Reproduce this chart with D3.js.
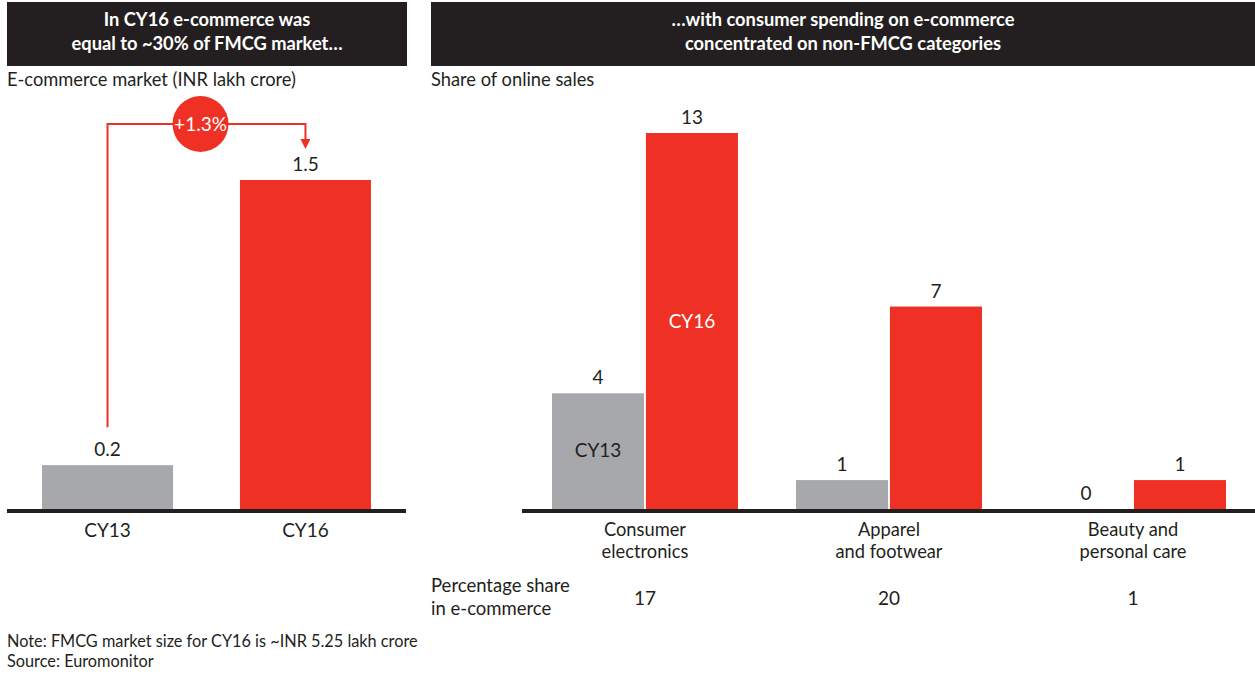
<!DOCTYPE html>
<html>
<head>
<meta charset="utf-8">
<script src="https://cdn.jsdelivr.net/npm/d3@7/dist/d3.min.js"></script>
<style>
  html, body { margin: 0; padding: 0; background: #fff; }
  svg { display: block; font-family: "Lato", "Open Sans", sans-serif; }
</style>
</head>
<body>
<svg id="chart" width="1255" height="676"></svg>
<script>
// ---- data ----
const marketYears = ["CY13", "CY16"];
const marketValues = [0.2, 1.5];
const marketGrowth = "+1.3%";

const categories = ["Consumer electronics", "Apparel and footwear", "Beauty and personal care"];
const categoryLines = [["Consumer", "electronics"], ["Apparel", "and footwear"], ["Beauty and", "personal care"]];
const seriesNames = ["CY13", "CY16"];
const shareCY13 = [4, 1, 0];
const shareCY16 = [13, 7, 1];
const ecommerceShare = [17, 20, 1];

const RED = "#ee3124";
const GREY = "#a7a8ab";
const DARK = "#231f20";

const svg = d3.select("#chart");

// ---- header bars ----
const headers = [
  { x0: 7, x1: 407, lines: ["In CY16 e-commerce was", "equal to ~30% of FMCG market\u2026"] },
  { x0: 431, x1: 1255, lines: ["\u2026with consumer spending on e-commerce", "concentrated on non-FMCG categories"] }
];
headers.forEach(h => {
  svg.append("rect").attr("x", h.x0).attr("y", 2).attr("width", h.x1 - h.x0).attr("height", 64).attr("fill", DARK);
  h.lines.forEach((t, i) => {
    svg.append("text").attr("x", (h.x0 + h.x1) / 2).attr("y", 26 + i * 24)
      .attr("text-anchor", "middle").attr("fill", "#fff")
      .attr("font-size", 18.3).attr("font-weight", 700).text(t);
  });
});

svg.append("text").attr("x", 7).attr("y", 86).attr("font-size", 18.3).attr("fill", DARK)
  .text("E-commerce market (INR lakh crore)");
svg.append("text").attr("x", 431).attr("y", 86).attr("font-size", 18.3).attr("fill", DARK)
  .text("Share of online sales");

// ---- left chart: e-commerce market ----
const baseY = 509;
const xL = d3.scaleBand().domain(marketYears).range([7, 406]).paddingInner(0.338).paddingOuter(0.177);
const yL = d3.scaleLinear().domain([0, 1.5]).range([baseY, 180]);

svg.append("g").selectAll("rect").data(marketValues).join("rect")
  .attr("x", (d, i) => xL(marketYears[i]))
  .attr("y", d => yL(d))
  .attr("width", xL.bandwidth())
  .attr("height", d => baseY - yL(d))
  .attr("fill", (d, i) => i === 0 ? GREY : RED);

svg.append("g").selectAll("text").data(marketValues).join("text")
  .attr("x", (d, i) => xL(marketYears[i]) + xL.bandwidth() / 2)
  .attr("y", d => yL(d) - 9)
  .attr("text-anchor", "middle").attr("font-size", 19).attr("fill", DARK)
  .text(d => d.toFixed(1));

svg.append("rect").attr("x", xL.range()[0]).attr("y", baseY).attr("width", xL.range()[1] - xL.range()[0]).attr("height", 4).attr("fill", DARK);

svg.append("g").selectAll("text").data(marketYears).join("text")
  .attr("x", d => xL(d) + xL.bandwidth() / 2)
  .attr("y", 537)
  .attr("text-anchor", "middle").attr("font-size", 19).attr("fill", DARK)
  .text(d => d);

// growth connector
const cx0 = xL(marketYears[0]) + xL.bandwidth() / 2;
const cx1 = xL(marketYears[1]) + xL.bandwidth() / 2;
const topY = 124;
const tipY = 149;
svg.append("path")
  .attr("d", `M${cx0},${yL(marketValues[0]) - 38} V${topY} H${cx1} V${tipY - 9}`)
  .attr("fill", "none").attr("stroke", RED).attr("stroke-width", 2);
svg.append("path")
  .attr("d", `M${cx1 - 5},${tipY - 10} L${cx1 + 5},${tipY - 10} L${cx1},${tipY} Z`)
  .attr("fill", RED);
const circX = (cx0 + cx1) / 2 - 6;
svg.append("circle").attr("cx", circX).attr("cy", topY).attr("r", 28).attr("fill", RED);
svg.append("text").attr("x", circX).attr("y", topY + 6.5).attr("text-anchor", "middle")
  .attr("font-size", 19).attr("fill", "#fff").text(marketGrowth);

// ---- right chart: share of online sales ----
const x0 = d3.scaleBand().domain(categories).range([522, 1256]).paddingInner(0.238).paddingOuter(0.123);
const x1 = d3.scaleBand().domain(seriesNames).range([0, x0.bandwidth()]).paddingInner(0.02);
const yR = d3.scaleLinear().domain([0, 13]).range([baseY, 133]);

const series = [shareCY13, shareCY16];
const groups = svg.append("g").selectAll("g").data(categories).join("g")
  .attr("transform", d => `translate(${x0(d)},0)`);

groups.selectAll("rect").data((d, ci) => seriesNames.map((s, si) => ({ s, v: series[si][ci] })))
  .join("rect")
  .attr("x", d => x1(d.s))
  .attr("y", d => yR(d.v))
  .attr("width", x1.bandwidth())
  .attr("height", d => baseY - yR(d.v))
  .attr("fill", d => d.s === "CY13" ? GREY : RED);

groups.selectAll("text.val").data((d, ci) => seriesNames.map((s, si) => ({ s, v: series[si][ci] })))
  .join("text").attr("class", "val")
  .attr("x", d => x1(d.s) + x1.bandwidth() / 2)
  .attr("y", d => yR(d.v) - 9)
  .attr("text-anchor", "middle").attr("font-size", 19).attr("fill", DARK)
  .text(d => d.v);

// in-bar series labels on the first category
const firstCat = categories[0];
svg.append("text")
  .attr("x", x0(firstCat) + x1("CY16") + x1.bandwidth() / 2)
  .attr("y", 328).attr("text-anchor", "middle").attr("font-size", 19).attr("fill", "#fff")
  .text("CY16");
svg.append("text")
  .attr("x", x0(firstCat) + x1("CY13") + x1.bandwidth() / 2)
  .attr("y", 457).attr("text-anchor", "middle").attr("font-size", 19).attr("fill", DARK)
  .text("CY13");

svg.append("rect").attr("x", x0.range()[0]).attr("y", baseY).attr("width", x0.range()[1] - x0.range()[0]).attr("height", 4).attr("fill", DARK);

categories.forEach((c, i) => {
  categoryLines[i].forEach((t, j) => {
    svg.append("text").attr("x", x0(c) + x0.bandwidth() / 2).attr("y", 536 + j * 22)
      .attr("text-anchor", "middle").attr("font-size", 18.3).attr("fill", DARK).text(t);
  });
  svg.append("text").attr("x", x0(c) + x0.bandwidth() / 2).attr("y", 605)
    .attr("text-anchor", "middle").attr("font-size", 19).attr("fill", DARK).text(ecommerceShare[i]);
});

svg.append("text").attr("x", 431).attr("y", 592).attr("font-size", 18.5).attr("fill", DARK).text("Percentage share");
svg.append("text").attr("x", 431).attr("y", 615).attr("font-size", 18.5).attr("fill", DARK).text("in e-commerce");

// ---- footnotes ----
svg.append("text").attr("x", 7).attr("y", 647).attr("font-size", 16.3).attr("fill", DARK)
  .text("Note: FMCG market size for CY16 is ~INR 5.25 lakh crore");
svg.append("text").attr("x", 7).attr("y", 667).attr("font-size", 16.3).attr("fill", DARK)
  .text("Source: Euromonitor");
</script>
</body>
</html>
